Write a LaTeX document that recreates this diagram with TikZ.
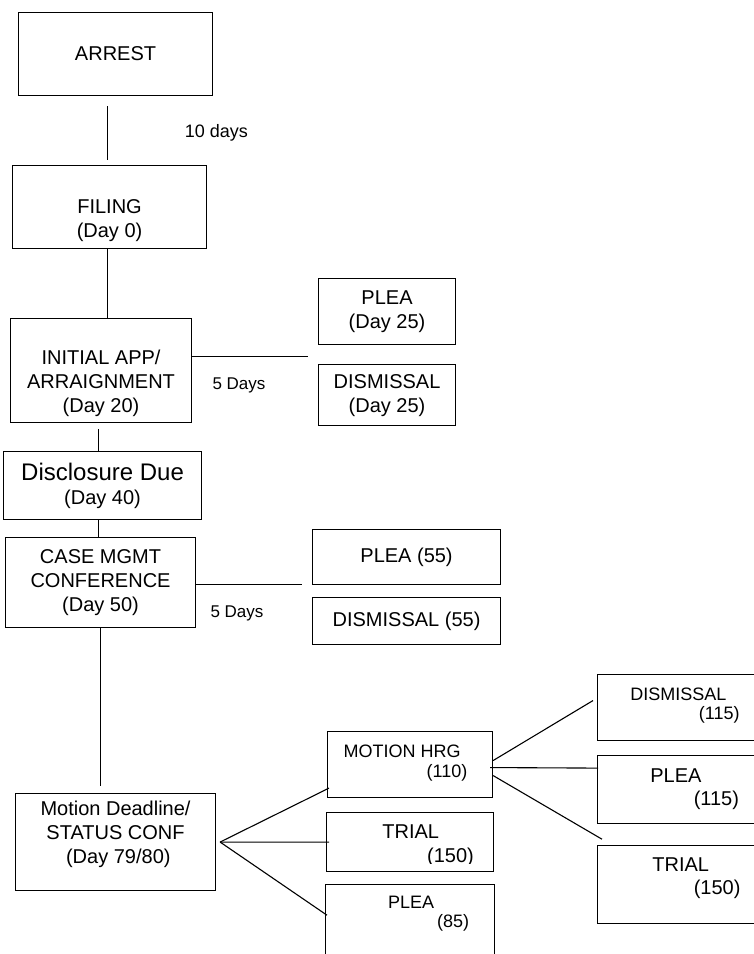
\documentclass[tikz,border=0pt]{standalone}
\usepackage{fontspec}
\setmainfont{Liberation Sans}
\usetikzlibrary{positioning}
\tikzset{
  box/.style        = {draw, line width=1.1pt, inner sep=0pt, align=center,
                       font=\fontsize{20}{24}\selectfont},
  days/.style       = {inner sep=0pt, font=\fontsize{17}{20}\selectfont},
  note/.style       = {inner sep=0pt, align=left, anchor=base west,
                       font=\fontsize{20}{23.5}\selectfont},
  note small/.style = {note, font=\fontsize{18}{19.5}\selectfont},
  link/.style       = {line width=1.1pt}
}
\begin{document}
\begin{tikzpicture}[x=1pt, y=-1pt]
\useasboundingbox (0,0) rectangle (754,954);
\clip (0,0) rectangle (754,954);

% main line, top to bottom
\node[box, anchor=north west, minimum width=194, minimum height=83] (arrest) at (18,12) {ARREST};
\node[box, anchor=north west, minimum width=194, minimum height=83] (filing) at (12,165) {\strut\\FILING\\(Day 0)};
\node[box, anchor=north west, minimum width=181, minimum height=104] (initial) at (10,318) {\strut\\INITIAL APP/\\ARRAIGNMENT\\(Day 20)};
\node[box, anchor=north west, minimum width=198, minimum height=68] (disclosure) at (3,451) {{\fontsize{24}{24}\selectfont Disclosure Due}\\(Day 40)};
\node[box, anchor=north west, minimum width=190, minimum height=90] (casemgmt) at (5,537) {CASE MGMT\\CONFERENCE\\(Day 50)};
\node[box, anchor=north west, minimum width=200, minimum height=97] (status) at (15,793) {Motion Deadline/\\STATUS CONF\\\ (Day 79/80)\\[-12pt]\strut};

% outcomes of the arraignment and the conference
\node[box, anchor=north west, minimum width=137, minimum height=66] (plea25) at (318,278) {PLEA\\(Day 25)};
\node[box, below=19pt of plea25, minimum width=137, minimum height=61] (dismissal25) {DISMISSAL\\(Day 25)};
\node[box, anchor=north west, minimum width=188, minimum height=55] (plea55) at (312,529) {PLEA (55)};
\node[box, below=12pt of plea55, minimum width=188, minimum height=47] (dismissal55) {DISMISSAL (55)};

% outcomes of the status conference
\node[box, anchor=north west, minimum width=165, minimum height=66] (hearing) at (327,731) {};
\node[box, below=14pt of hearing, minimum width=167, minimum height=59] (trial) {};
\node[box, below=12pt of trial, minimum width=169, minimum height=90] (plea85) {};

% outcomes of the motion hearing
\node[box, anchor=north west, minimum width=180, minimum height=66] (dismissal115) at (597,674) {};
\node[box, below=14pt of dismissal115, minimum width=180, minimum height=68] (plea115) {};
\node[box, below=21pt of plea115, minimum width=180, minimum height=78] (trialhrg) {};

% texts of the lower boxes (base = last line)
\node[note small] (hearingtxt) at (343.5,777.2) {MOTION HRG\\\hspace*{82.9pt}(110)};
\begin{scope}
\clip (trial.north west) rectangle ([yshift=9pt]trial.south east);
\node[note, font=\fontsize{20}{24}\selectfont] (trialtxt) at (382.2,862.7) {TRIAL\\\hspace*{44.7pt}(150)};
\end{scope}
\node[note small] (plea85txt) at (388,927.8) {PLEA\\\hspace*{49pt}(85)};
\node[note small] (dismissal115txt) at (630.2,719.8) {DISMISSAL\\\hspace*{68.5pt}(115)};
\node[note] (plea115txt) at (650.2,805.5) {PLEA\\\hspace*{43.4pt}(115)};
\node[note] (trialhrgtxt) at (652.2,894.5) {TRIAL\\\hspace*{41.4pt}(150)};

% time spans
\node[days, font=\fontsize{18}{20}\selectfont] (tendays) at (216.5,132.5) {10 days};
\node[days] (fivedays25) at (239,385) {5 Days};
\node[days] (fivedays55) at (237,613) {5 Days};

% connectors
\draw[link] ([xshift=-8pt,yshift=-10pt]arrest.south) -- ([xshift=-2pt,yshift=5pt]filing.north);
\draw[link] ([xshift=-2pt]filing.south) -- ([xshift=-2pt]filing.south |- initial.north);
\draw[link] ([yshift=14pt]initial.east) -- ([xshift=-10pt,yshift=14pt]initial.east -| plea25.west);
\draw[link] ([xshift=-2.5pt,yshift=-6pt]initial.south) -- ([xshift=-2.5pt]initial.south |- disclosure.north);
\draw[link] ([xshift=-4pt]disclosure.south) -- ([xshift=-4pt]disclosure.south |- casemgmt.north);
\draw[link] ([yshift=-2pt]casemgmt.east) -- ([xshift=-10pt,yshift=-2pt]casemgmt.east -| plea55.west);
\draw[link] (casemgmt.south) -- ([yshift=7pt]casemgmt.south |- status.north);

\coordinate (hearingin) at ([xshift=2pt,yshift=10pt]hearing.south west);
\coordinate (trialin)   at ([xshift=3pt]trial.west);
\coordinate (plea85in)  at ([xshift=2pt,yshift=-31pt]plea85.north west);
\foreach \target in {hearingin, trialin, plea85in}
  \draw[link] ([xshift=4pt]status.east) -- (\target);

\draw[link] ([yshift=4pt]hearing.east) -- ([xshift=-4pt,yshift=7pt]dismissal115.west);
\draw[link] ([xshift=-3pt,yshift=-3pt]hearing.east) -- ([xshift=1pt,yshift=-13pt]plea115.north west);
\draw[link] ([yshift=-11pt]hearing.east) -- ([xshift=5pt,yshift=6pt]trialhrg.north west);
\end{tikzpicture}
\end{document}
